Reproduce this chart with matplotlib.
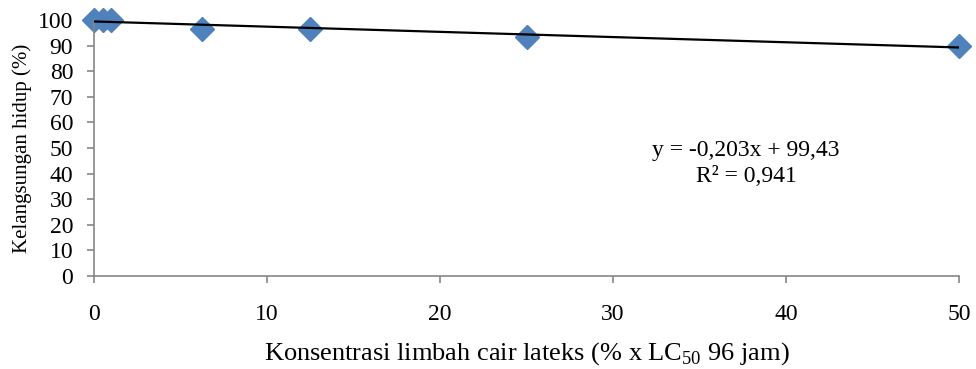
import numpy as np
import matplotlib
matplotlib.use('Agg')
import matplotlib.pyplot as plt

# konsentrasi (% x LC50 96 jam) dan kelangsungan hidup (%)
konsentrasi = [0, 0.5, 1, 6.25, 12.5, 25, 50]
hidup = [100, 100, 100, 96.67, 96.67, 93.33, 90]
xticks = [0, 10, 20, 30, 40, 50]
yticks = [0, 10, 20, 30, 40, 50, 60, 70, 80, 90, 100]

plt.rcParams['font.family'] = ['Liberation Serif', 'DejaVu Serif']
plt.rcParams['mathtext.fontset'] = 'custom'
plt.rcParams['mathtext.rm'] = 'Liberation Serif'

fig = plt.figure(figsize=(9.76, 3.69), dpi=100)
ax = fig.add_axes([94/976, 1 - 276/369, (959 - 94)/976, (276 - 20)/369])

# trendline linear
m, c = np.polyfit(konsentrasi, hidup, 1)
xl = np.array([0, 50])
ax.plot(xl, m * xl + c, color='black', lw=1.6, zorder=3)

ax.plot(konsentrasi, hidup, 'D', color='#4f81bd', ms=12, mec='#4f81bd',
        clip_on=False, zorder=2)

ax.set_xlim(0, 50)
ax.set_ylim(0, 100)
ax.set_xticks(xticks)
ax.set_yticks(yticks)
for s in ['top', 'right']:
    ax.spines[s].set_visible(False)
for s in ['left', 'bottom']:
    ax.spines[s].set_color('#868686')
    ax.spines[s].set_linewidth(1.2)
ax.tick_params(axis='x', direction='out', length=5, width=1.2, color='#868686',
               labelsize=17, pad=15)
ax.tick_params(axis='y', direction='out', length=5, width=1.2, color='#868686',
               labelsize=17, pad=10)

ax.set_xlabel('Konsentrasi limbah cair lateks (% x LC$_{50}$ 96 jam)', fontsize=19, labelpad=11)
ax.set_ylabel('Kelangsungan hidup (%)', fontsize=15, labelpad=4)

ax.text(37.7, 49.0, 'y = -0,203x + 99,43', ha='center', va='center', fontsize=17)
ax.text(37.7, 38.7, 'R² = 0,941', ha='center', va='center', fontsize=17)

plt.savefig('out.png', dpi=100)
